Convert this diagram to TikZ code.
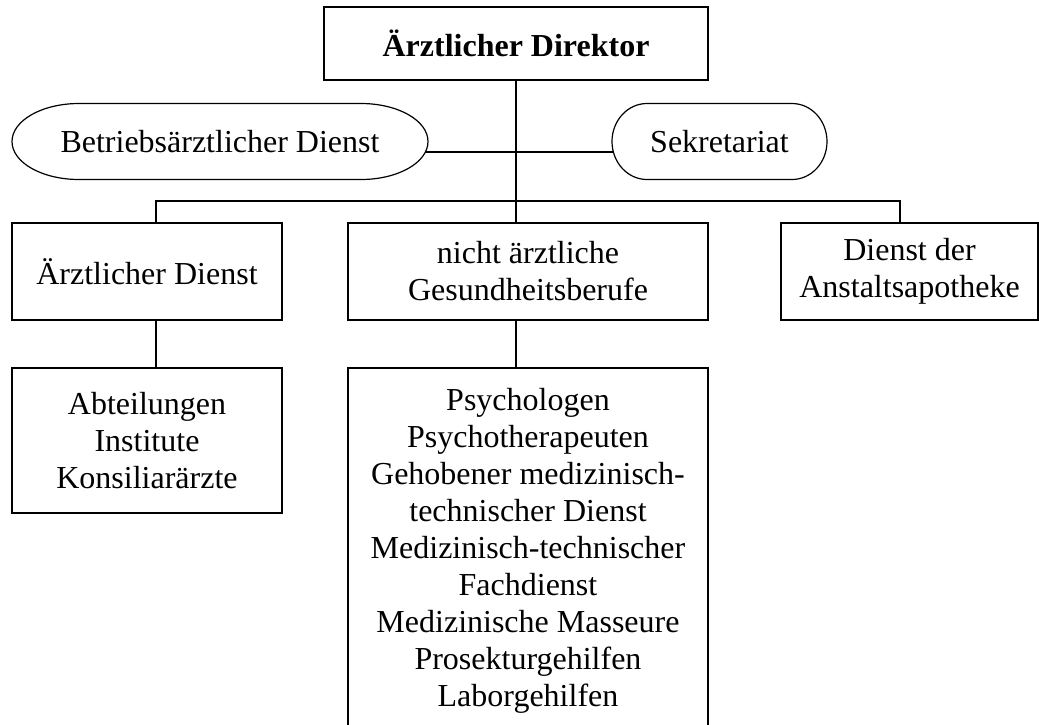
\documentclass[tikz,border=0pt]{standalone}
\usepackage{fontspec}
\setmainfont{Liberation Serif}
\usetikzlibrary{calc,backgrounds}
\begin{document}
\begin{tikzpicture}[x=1pt,y=-1pt,
  box/.style={draw, line width=1.2pt, inner sep=0pt, align=center, font=\fontsize{32}{37}\selectfont},
  term/.style={inner sep=0pt, outer sep=0pt, align=center, font=\fontsize{32}{37}\selectfont},
  outline/.style={line width=1.2pt},
  conn/.style={line width=1.2pt}]
\useasboundingbox (0,0) rectangle (1039,724);

% top
\node[box, minimum width=384pt, minimum height=73pt, font=\fontsize{32}{37}\selectfont\bfseries] (dir) at (516,43.5) {Ärztlicher Direktor};

% terminators
\node[term, minimum width=416pt, minimum height=76pt] (bds) at (220,141.5) {Betriebsärztlicher Dienst};
\node[term, minimum width=215pt, minimum height=76pt] (sek) at (719.5,141.5) {Sekretariat};

\draw[outline] ([xshift=67pt]bds.north west) -- ([xshift=-67pt]bds.north east)
  arc[start angle=90,end angle=-90,x radius=67pt,y radius=38pt]
  -- ([xshift=67pt]bds.south west)
  arc[start angle=270,end angle=90,x radius=67pt,y radius=38pt] -- cycle;
\draw[outline] ([xshift=35pt]sek.north west) -- ([xshift=-35pt]sek.north east)
  arc[start angle=90,end angle=-90,x radius=35pt,y radius=38pt]
  -- ([xshift=35pt]sek.south west)
  arc[start angle=270,end angle=90,x radius=35pt,y radius=38pt] -- cycle;

% second row
\node[box, minimum width=270pt, minimum height=97pt] (arzt) at (147,271.5) {Ärztlicher Dienst};
\node[box, minimum width=360pt, minimum height=97pt] (nicht) at (528,271.5) {nicht ärztliche\\Gesundheitsberufe};
\node[box, minimum width=257pt, minimum height=97pt] (apo) at (909.5,271.5) {Dienst der\\Anstaltsapotheke};

% third row
\node[box, minimum width=270pt, minimum height=145pt] (abt) at (147,440.5) {Abteilungen\\Institute\\Konsiliarärzte};
\node[box, minimum width=360pt, minimum height=366pt] (ges) at (528,551) {Psychologen\\Psychotherapeuten\\Gehobener medizinisch-\\technischer Dienst\\Medizinisch-technischer\\Fachdienst\\Medizinische Masseure\\Prosekturgehilfen\\Laborgehilfen};

% junctions
\coordinate (jl) at (156,201);
\coordinate (jr) at (900,201);

% connectors
\draw[conn] (dir.south) -- (dir.south |- nicht.north);
\draw[conn] (jl |- arzt.north) -- (jl) -- (jr) -- (jr |- apo.north);
\draw[conn] (arzt.south -| jl) -- (abt.north -| jl);
\draw[conn] (nicht.south -| dir.south) -- (ges.north -| dir.south);

\begin{scope}[on background layer]
\draw[conn] ([yshift=-10.5pt]bds.center) -- ([yshift=-10.5pt]sek.center);
\fill[white] ([xshift=67pt]bds.north west) -- ([xshift=-67pt]bds.north east)
  arc[start angle=90,end angle=-90,x radius=67pt,y radius=38pt]
  -- ([xshift=67pt]bds.south west)
  arc[start angle=270,end angle=90,x radius=67pt,y radius=38pt] -- cycle;
\fill[white] ([xshift=35pt]sek.north west) -- ([xshift=-35pt]sek.north east)
  arc[start angle=90,end angle=-90,x radius=35pt,y radius=38pt]
  -- ([xshift=35pt]sek.south west)
  arc[start angle=270,end angle=90,x radius=35pt,y radius=38pt] -- cycle;
\end{scope}
\end{tikzpicture}
\end{document}
